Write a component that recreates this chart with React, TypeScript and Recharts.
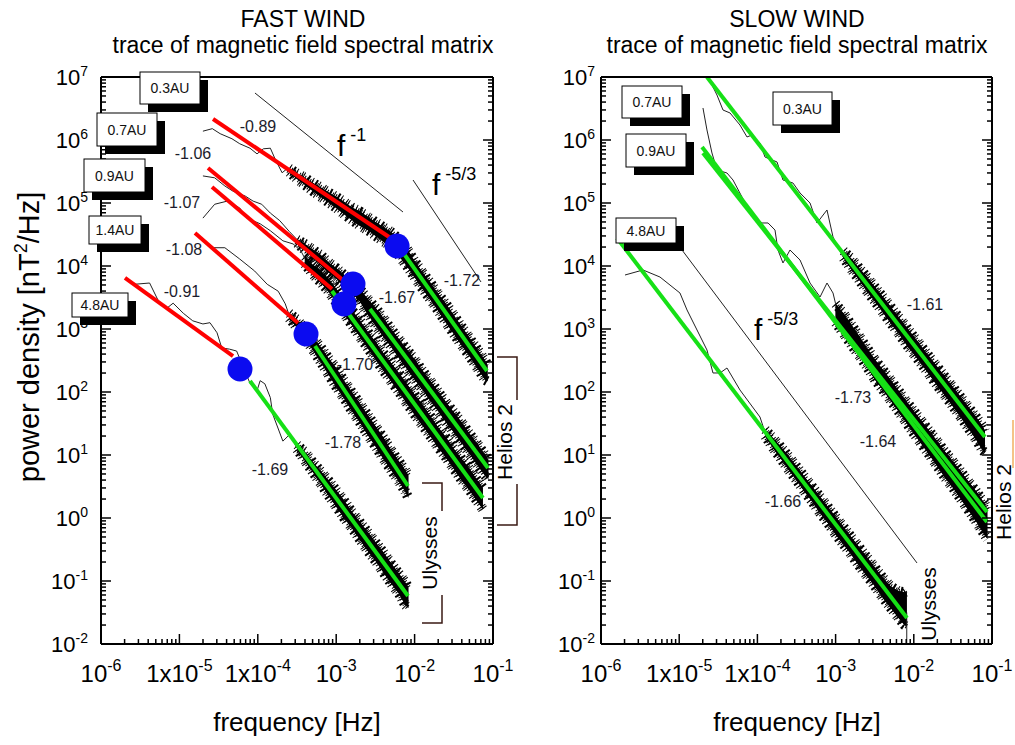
import React from 'react';
import { ComposedChart, Line, Area, Scatter, XAxis, YAxis } from 'recharts';

type Pt = [number, number];
type Band = [number, number, number];

const FONT = "'Liberation Sans', Arial, Helvetica, sans-serif";

// both axes are in decades: x = log10(f / Hz), y = log10(P / nT^2 Hz^-1)
const xDecades = [-6, -5, -4, -3, -2, -1];
const xTickBase = ['10', '1x10', '1x10', '10', '10', '10'];
const yDecades = [7, 6, 5, 4, 3, 2, 1, 0, -1, -2];
const minorSteps = [2, 3, 4, 5, 6, 7, 8, 9];

// ---------- FAST WIND ----------
// low frequency part of each spectrum (thin line)
const fast03Thin: Pt[] = [[-4.70, 6.14], [-4.58, 6.18], [-4.48, 6.10], [-4.33, 6.02], [-4.23, 5.94], [-4.10, 5.87], [-4.01, 5.78], [-3.93, 5.86], [-3.84, 5.87], [-3.78, 5.70], [-3.69, 5.48], [-3.63, 5.54], [-3.60, 5.52]];
const fast07Thin: Pt[] = [[-4.70, 5.43], [-4.55, 5.40], [-4.42, 5.27], [-4.32, 5.19], [-4.16, 5.11], [-4.06, 5.03], [-3.95, 4.98], [-3.84, 4.84], [-3.72, 4.72], [-3.60, 4.55], [-3.50, 4.42]];
const fast09Thin: Pt[] = [[-4.70, 4.76], [-4.55, 4.98], [-4.39, 5.03], [-4.23, 4.92], [-4.14, 4.76], [-3.97, 4.67], [-3.84, 4.56], [-3.68, 4.40], [-3.55, 4.35], [-3.45, 4.24], [-3.40, 4.12]];
const fast14Thin: Pt[] = [[-4.57, 4.29], [-4.42, 4.29], [-4.23, 4.11], [-4.04, 3.92], [-3.88, 3.71], [-3.74, 3.60], [-3.65, 3.40], [-3.60, 3.22]];
const fast48Thin: Pt[] = [[-5.57, 3.71], [-5.38, 3.73], [-5.25, 3.40], [-5.16, 3.33], [-5.08, 3.41], [-4.95, 3.25], [-4.83, 3.13], [-4.70, 3.08], [-4.61, 3.10], [-4.52, 2.94], [-4.46, 2.70], [-4.36, 2.68], [-4.27, 2.65], [-4.10, 2.14], [-4.01, 2.02], [-3.97, 2.18], [-3.91, 2.13], [-3.84, 1.91], [-3.81, 1.65], [-3.68, 1.22], [-3.59, 1.33], [-3.50, 1.11]];

// noisy high frequency part: [log f, lower, upper]
const fast03Band: Band[] = [[-3.60, 5.49, 5.55], [-3.50, 5.38, 5.47], [-3.40, 5.29, 5.40], [-3.30, 5.19, 5.32], [-3.20, 5.10, 5.25], [-3.10, 5.01, 5.17], [-3.00, 4.92, 5.10], [-2.90, 4.82, 5.02], [-2.80, 4.73, 4.93], [-2.70, 4.64, 4.87], [-2.60, 4.57, 4.78], [-2.50, 4.48, 4.70], [-2.40, 4.39, 4.62], [-2.30, 4.31, 4.54], [-2.20, 4.16, 4.43], [-2.10, 4.00, 4.28], [-2.00, 3.82, 4.08], [-1.90, 3.64, 3.90], [-1.80, 3.47, 3.74], [-1.70, 3.29, 3.56], [-1.60, 3.10, 3.40], [-1.50, 2.92, 3.22], [-1.40, 2.74, 3.04], [-1.30, 2.57, 2.86], [-1.20, 2.38, 2.68], [-1.10, 2.19, 2.50], [-1.07, 2.17, 2.43]];
const fast07Band: Band[] = [[-3.50, 4.36, 4.42], [-3.40, 4.25, 4.35], [-3.30, 4.13, 4.26], [-3.20, 4.01, 4.18], [-3.10, 3.90, 4.06], [-3.00, 3.80, 3.97], [-2.90, 3.68, 3.86], [-2.80, 3.57, 3.76], [-2.70, 3.44, 3.64], [-2.60, 3.24, 3.48], [-2.50, 3.06, 3.34], [-2.40, 2.88, 3.18], [-2.30, 2.72, 3.00], [-2.20, 2.54, 2.84], [-2.10, 2.37, 2.68], [-2.00, 2.20, 2.52], [-1.90, 2.04, 2.34], [-1.80, 1.86, 2.18], [-1.70, 1.70, 2.01], [-1.60, 1.52, 1.84], [-1.50, 1.36, 1.68], [-1.40, 1.19, 1.52], [-1.30, 1.02, 1.34], [-1.20, 0.84, 1.18], [-1.10, 0.67, 1.00], [-1.06, 0.62, 0.93]];
const fast09Band: Band[] = [[-3.40, 4.03, 4.15], [-3.30, 3.87, 4.02], [-3.20, 3.74, 3.93], [-3.10, 3.60, 3.80], [-3.00, 3.42, 3.64], [-2.90, 3.24, 3.46], [-2.80, 3.06, 3.30], [-2.70, 2.88, 3.14], [-2.60, 2.70, 2.96], [-2.50, 2.52, 2.80], [-2.40, 2.34, 2.62], [-2.30, 2.17, 2.46], [-2.20, 2.00, 2.30], [-2.10, 1.82, 2.13], [-2.00, 1.64, 1.96], [-1.90, 1.47, 1.80], [-1.80, 1.30, 1.62], [-1.70, 1.12, 1.44], [-1.60, 0.96, 1.28], [-1.50, 0.78, 1.10], [-1.40, 0.60, 0.94], [-1.30, 0.44, 0.78], [-1.20, 0.26, 0.60], [-1.13, 0.14, 0.48]];
const fast14Band: Band[] = [[-3.60, 3.17, 3.25], [-3.50, 3.02, 3.15], [-3.40, 2.85, 3.01], [-3.30, 2.67, 2.87], [-3.20, 2.48, 2.72], [-3.10, 2.28, 2.54], [-3.00, 2.08, 2.38], [-2.90, 1.90, 2.18], [-2.80, 1.70, 2.00], [-2.70, 1.52, 1.82], [-2.60, 1.32, 1.64], [-2.50, 1.14, 1.46], [-2.40, 0.94, 1.28], [-2.30, 0.76, 1.08], [-2.20, 0.58, 0.90], [-2.12, 0.42, 0.76], [-2.08, 0.32, 0.68]];
const fast48Band: Band[] = [[-3.50, 1.09, 1.16], [-3.40, 0.91, 1.05], [-3.30, 0.73, 0.89], [-3.20, 0.55, 0.75], [-3.10, 0.36, 0.60], [-3.00, 0.18, 0.44], [-2.90, 0.00, 0.28], [-2.80, -0.16, 0.10], [-2.70, -0.34, -0.06], [-2.60, -0.52, -0.22], [-2.50, -0.68, -0.38], [-2.40, -0.86, -0.54], [-2.30, -1.04, -0.72], [-2.20, -1.20, -0.88], [-2.12, -1.38, -1.02], [-2.08, -1.43, -1.10]];

// power-law fits below (red) and above (green) the break
const fastRed: Pt[][] = [
  [[-4.571, 6.333], [-2.288, 4.429]],
  [[-4.635, 5.556], [-2.824, 3.683]],
  [[-4.584, 5.254], [-3.054, 3.635]],
  [[-4.801, 4.524], [-3.487, 3.095]],
  [[-5.694, 3.810], [-4.316, 2.571]],
];
const fastGreen: Pt[][] = [
  [[-2.161, 4.238], [-1.077, 2.333]],
  [[-2.569, 3.317], [-1.064, 0.794]],
  [[-3.054, 3.603], [-1.128, 0.317]],
  [[-3.270, 2.730], [-2.084, 0.508]],
  [[-4.099, 2.175], [-2.084, -1.238]],
];
const fastBreaks: Pt[] = [[-2.224, 4.317], [-2.786, 3.714], [-2.901, 3.397], [-3.385, 2.921], [-4.227, 2.365]];
const fastGuides: Pt[][] = [
  [[-4.036, 6.746], [-2.148, 4.857]], // f^-1
  [[-2.020, 5.365], [-1.153, 3.746]], // f^-5/3
];

// ---------- SLOW WIND ----------
const slow03Thin: Pt[] = [[-4.632, 7.0], [-4.517, 6.714], [-4.440, 6.476], [-4.350, 6.429], [-4.223, 6.238], [-4.133, 6.048], [-4.069, 6.079], [-3.967, 5.952], [-3.903, 5.730], [-3.749, 5.651], [-3.673, 5.365], [-3.545, 5.317], [-3.455, 5.159], [-3.327, 5.000], [-3.238, 4.683], [-3.110, 4.889], [-3.033, 4.460], [-2.905, 4.143]];
const slow07Thin: Pt[] = [[-4.696, 6.508], [-4.645, 6.159], [-4.581, 5.794], [-4.517, 5.524], [-4.389, 5.476], [-4.312, 5.365], [-4.197, 5.095], [-4.069, 4.778], [-3.941, 4.683], [-3.864, 4.683], [-3.775, 4.571], [-3.737, 4.254], [-3.673, 4.048], [-3.583, 4.254], [-3.455, 4.095], [-3.327, 3.730], [-3.199, 3.508], [-3.110, 3.730], [-3.033, 3.571], [-3.0, 3.40]];
const slow48Thin: Pt[] = [[-5.693, 3.857], [-5.463, 3.937], [-5.246, 3.825], [-4.990, 3.571], [-4.900, 3.302], [-4.772, 2.984], [-4.645, 2.667], [-4.568, 2.302], [-4.478, 2.302], [-4.389, 2.381], [-4.223, 2.032], [-3.967, 1.603], [-3.90, 1.35]];
const slow48Drop: Pt[] = [[-2.09, -1.5], [-2.09, -2.0]];

const slow03Band: Band[] = [[-2.90, 4.13, 4.24], [-2.80, 3.95, 4.12], [-2.70, 3.78, 3.97], [-2.60, 3.60, 3.83], [-2.50, 3.44, 3.67], [-2.40, 3.27, 3.52], [-2.30, 3.10, 3.36], [-2.20, 2.94, 3.20], [-2.10, 2.76, 3.04], [-2.00, 2.60, 2.88], [-1.90, 2.44, 2.72], [-1.80, 2.27, 2.56], [-1.70, 2.10, 2.40], [-1.60, 1.94, 2.24], [-1.50, 1.77, 2.08], [-1.40, 1.60, 1.92], [-1.30, 1.42, 1.76], [-1.20, 1.24, 1.60], [-1.12, 1.07, 1.46], [-1.09, 1.04, 1.38]];
const slow0709Band: Band[] = [[-3.00, 3.10, 3.40], [-2.90, 2.93, 3.25], [-2.80, 2.75, 3.07], [-2.70, 2.58, 2.89], [-2.60, 2.40, 2.70], [-2.50, 2.20, 2.52], [-2.40, 2.04, 2.36], [-2.30, 1.87, 2.20], [-2.20, 1.70, 2.03], [-2.10, 1.52, 1.86], [-2.00, 1.34, 1.70], [-1.90, 1.17, 1.54], [-1.80, 1.00, 1.38], [-1.70, 0.82, 1.22], [-1.60, 0.64, 1.05], [-1.50, 0.48, 0.90], [-1.40, 0.30, 0.74], [-1.30, 0.12, 0.58], [-1.20, -0.06, 0.42], [-1.10, -0.26, 0.24], [-1.06, -0.33, 0.14]];
const slow48Band: Band[] = [[-3.90, 1.30, 1.40], [-3.80, 1.11, 1.27], [-3.70, 0.94, 1.13], [-3.60, 0.76, 0.98], [-3.50, 0.60, 0.82], [-3.40, 0.42, 0.66], [-3.30, 0.26, 0.50], [-3.20, 0.08, 0.34], [-3.10, -0.08, 0.18], [-3.00, -0.26, 0.02], [-2.90, -0.42, -0.14], [-2.80, -0.58, -0.30], [-2.70, -0.76, -0.46], [-2.60, -0.92, -0.62], [-2.50, -1.08, -0.78], [-2.40, -1.26, -0.94], [-2.30, -1.42, -1.08], [-2.20, -1.58, -1.16], [-2.12, -1.70, -1.18], [-2.09, -1.72, -1.16]];

const slowGreen: Pt[][] = [
  [[-4.645, 7.0], [-1.090, 1.286]],
  [[-4.708, 5.889], [-1.064, -0.063]],
  [[-4.696, 5.794], [-1.064, 0.095]],
  [[-5.795, 4.444], [-2.087, -1.587]],
];
const slowGuides: Pt[][] = [[[-4.964, 4.254], [-1.959, -0.714]]];

// ---------- annotations (page pixels) ----------
const fastBoxes = [
  { x: 140, y: 72, w: 60, h: 32, t: '0.3AU' },
  { x: 97, y: 113, w: 60, h: 33, t: '0.7AU' },
  { x: 84, y: 159, w: 61, h: 33, t: '0.9AU' },
  { x: 89, y: 216, w: 52, h: 28, t: '1.4AU' },
  { x: 72, y: 293, w: 56, h: 24, t: '4.8AU' },
];
const slowBoxes = [
  { x: 622, y: 86, w: 60, h: 32, t: '0.7AU' },
  { x: 773, y: 92, w: 59, h: 33, t: '0.3AU' },
  { x: 626, y: 134, w: 60, h: 33, t: '0.9AU' },
  { x: 616, y: 218, w: 60, h: 25, t: '4.8AU' },
];
const slopeLabels = [
  { t: '-0.89', x: 258, y: 132 }, { t: '-1.06', x: 193, y: 159 }, { t: '-1.07', x: 182, y: 208 },
  { t: '-1.08', x: 184, y: 255 }, { t: '-0.91', x: 182, y: 297 }, { t: '-1.67', x: 397, y: 303 },
  { t: '-1.72', x: 462, y: 286 }, { t: '-1.70', x: 355, y: 370 }, { t: '-1.78', x: 343, y: 448 },
  { t: '-1.69', x: 270, y: 475 },
  { t: '-1.61', x: 925, y: 310 }, { t: '-1.73', x: 853, y: 403 }, { t: '-1.64', x: 878, y: 447 },
  { t: '-1.66', x: 783, y: 507 },
];

const toRows = (pts: Pt[]) => pts.map(([e, p]) => ({ e, p }));
const toBand = (pts: Band[]) => pts.map(([e, lo, hi]) => ({ e, r: [lo, hi] }));

const xTicks = xDecades.flatMap((n) => (n === -1 ? [n] : [n, ...minorSteps.map((k) => n + Math.log10(k))]));
const yTicks = yDecades.flatMap((n) => (n === 7 ? [n] : [n, ...minorSteps.map((k) => n + Math.log10(k))]));
const isMajor = (v: number) => Math.abs(v - Math.round(v)) < 1e-6;

const TICK = { stroke: '#000', strokeWidth: 1.5 };

function BottomTick(props: any) {
  const { x, y, payload } = props;
  const m = isMajor(payload.value);
  const n = Math.round(payload.value);
  return (
    <g>
      <line x1={x} x2={x} y1={y} y2={y - (m ? 10 : 5)} {...TICK} />
      {m && (
        <text x={x} y={y + 38} textAnchor="middle" fontFamily={FONT} fontSize={24} fill="#000">
          {xTickBase[xDecades.indexOf(n)]}
          <tspan dy={-11} fontSize={16}>{n}</tspan>
        </text>
      )}
    </g>
  );
}

function TopTick(props: any) {
  const { x, y, payload } = props;
  const m = isMajor(payload.value);
  return <line x1={x} x2={x} y1={y} y2={y + (m ? 10 : 5)} {...TICK} />;
}

function LeftTick(props: any) {
  const { x, y, payload, gap } = props;
  const m = isMajor(payload.value);
  const n = Math.round(payload.value);
  return (
    <g>
      <line x1={x} x2={x + (m ? 10 : 5)} y1={y} y2={y} {...TICK} />
      {m && (
        <text x={x - gap} y={y + 8} textAnchor="end" fontFamily={FONT} fontSize={22} fill="#000">
          10
          <tspan dy={-9} fontSize={14}>{n}</tspan>
        </text>
      )}
    </g>
  );
}

function RightTick(props: any) {
  const { x, y, payload } = props;
  const m = isMajor(payload.value);
  return <line x1={x} x2={x - (m ? 10 : 5)} y1={y} y2={y} {...TICK} />;
}

interface PanelProps {
  width: number;
  margin: { top: number; bottom: number; left: number; right: number };
  labelGap: number;
  thin: Pt[][];
  bands: Band[][];
  guides: Pt[][];
  red: Pt[][];
  green: Pt[][];
  breaks: Pt[];
}

function Panel({ width, margin, labelGap, thin, bands, guides, red, green, breaks }: PanelProps) {
  const axisLine = { stroke: '#000', strokeWidth: 2 };
  const common = { xAxisId: 'b', yAxisId: 'l', isAnimationActive: false, dot: false, activeDot: false, type: 'linear' as const };
  return (
    <ComposedChart width={width} height={745} margin={margin}>
      <XAxis xAxisId="b" type="number" dataKey="e" domain={[-6, -1]} allowDataOverflow ticks={xTicks} interval={0}
        height={1} tickSize={0} tickMargin={0} tickLine={false} axisLine={axisLine} tick={BottomTick} />
      <XAxis xAxisId="t" orientation="top" type="number" domain={[-6, -1]} allowDataOverflow ticks={xTicks} interval={0}
        height={1} tickSize={0} tickMargin={0} tickLine={false} axisLine={axisLine} tick={TopTick} />
      <YAxis yAxisId="l" type="number" dataKey="p" domain={[-2, 7]} allowDataOverflow ticks={yTicks} interval={0}
        width={1} tickSize={0} tickMargin={0} tickLine={false} axisLine={axisLine}
        tick={(p: any) => <LeftTick {...p} gap={labelGap} />} />
      <YAxis yAxisId="r" orientation="right" type="number" domain={[-2, 7]} allowDataOverflow ticks={yTicks} interval={0}
        width={1} tickSize={0} tickMargin={0} tickLine={false} axisLine={axisLine} tick={RightTick} />

      {/* noisy bands: solid core plus two dashed fringes that give the ragged edges */}
      {bands.map((b, i) => (
        <Area key={'bandA' + i} {...common} data={toBand(b)} dataKey="r" stroke="#000" strokeWidth={10}
          strokeDasharray="1 3 2 2 1 5 1 1 1 4 2 3" fill="#000" fillOpacity={1} />
      ))}
      {bands.map((b, i) => (
        <Area key={'bandB' + i} {...common} data={toBand(b)} dataKey="r" stroke="#000" strokeWidth={5}
          strokeDasharray="1 1.5 1 2.5" fill="#000" fillOpacity={1} />
      ))}
      {thin.map((s, i) => (
        <Line key={'thin' + i} {...common} data={toRows(s)} dataKey="p" stroke="#222" strokeWidth={1} />
      ))}
      {guides.map((s, i) => (
        <Line key={'guide' + i} {...common} data={toRows(s)} dataKey="p" stroke="#222" strokeWidth={1} />
      ))}
      {red.map((s, i) => (
        <Line key={'red' + i} {...common} data={toRows(s)} dataKey="p" stroke="#ff0000" strokeWidth={4} />
      ))}
      {green.map((s, i) => (
        <Line key={'green' + i} {...common} data={toRows(s)} dataKey="p" stroke="#16e016" strokeWidth={4} />
      ))}
      {breaks.length > 0 && (
        <Scatter xAxisId="b" yAxisId="l" data={toRows(breaks)} dataKey="p" isAnimationActive={false}
          shape={(p: any) => <circle cx={p.cx} cy={p.cy} r={12.5} fill="#0b0bf0" />} />
      )}
    </ComposedChart>
  );
}

function Box({ x, y, w, h, t }: { x: number; y: number; w: number; h: number; t: string }) {
  return (
    <g>
      <rect x={x + 8} y={y + 8} width={w} height={h} fill="#000" />
      <rect x={x} y={y} width={w} height={h} fill="#fff" stroke="#000" strokeWidth={1} />
      <text x={x + w / 2} y={y + h / 2 + 5} textAnchor="middle" fontSize={14} fill="#111">{t}</text>
    </g>
  );
}

function Power({ x, y, sup }: { x: number; y: number; sup: string }) {
  return (
    <text x={x} y={y} fontSize={30} fill="#000">
      f
      <tspan dx={5} dy={-15} fontSize={18}>{sup}</tspan>
    </text>
  );
}

export default function App() {
  return (
    <div style={{ position: 'absolute', left: 0, top: 0, width: 1015, height: 745, background: '#fff', overflow: 'hidden' }}>
      <div style={{ position: 'absolute', left: 0, top: 0 }}>
        <Panel
          width={545}
          margin={{ top: 76, bottom: 100, left: 100, right: 51 }}
          labelGap={13}
          thin={[fast03Thin, fast07Thin, fast09Thin, fast14Thin, fast48Thin]}
          bands={[fast03Band, fast07Band, fast09Band, fast14Band, fast48Band]}
          guides={fastGuides}
          red={fastRed}
          green={fastGreen}
          breaks={fastBreaks}
        />
      </div>
      <div style={{ position: 'absolute', left: 510, top: 0 }}>
        <Panel
          width={505}
          margin={{ top: 76, bottom: 100, left: 90, right: 22 }}
          labelGap={6}
          thin={[slow03Thin, slow07Thin, slow48Thin, slow48Drop]}
          bands={[slow03Band, slow0709Band, slow48Band]}
          guides={slowGuides}
          red={[]}
          green={slowGreen}
          breaks={[]}
        />
      </div>
      <svg width={1015} height={745} style={{ position: 'absolute', left: 0, top: 0 }} fontFamily={FONT}>
        {/* titles */}
        <text x={303} y={27} textAnchor="middle" fontSize={23}>FAST WIND</text>
        <text x={303} y={53} textAnchor="middle" fontSize={23}>trace of magnetic field spectral matrix</text>
        <text x={797} y={27} textAnchor="middle" fontSize={23}>SLOW WIND</text>
        <text x={797} y={53} textAnchor="middle" fontSize={23}>trace of magnetic field spectral matrix</text>
        <text x={297} y={731} textAnchor="middle" fontSize={26}>frequency [Hz]</text>
        <text x={797} y={731} textAnchor="middle" fontSize={26}>frequency [Hz]</text>
        <text transform="translate(39,337) rotate(-90)" textAnchor="middle" fontSize={29}>
          power density [nT<tspan dy={-12} fontSize={18}>2</tspan><tspan dy={12}>/Hz]</tspan>
        </text>

        {/* power-law guides */}
        <Power x={337} y={156} sup="-1" />
        <Power x={432} y={195} sup="-5/3" />
        <Power x={754} y={340} sup="-5/3" />

        {slopeLabels.map((l) => (
          <text key={l.t + l.x} x={l.x} y={l.y} textAnchor="middle" fontSize={16} fill="#1c1c2c">{l.t}</text>
        ))}

        {fastBoxes.map((b) => <Box key={'f' + b.t} {...b} />)}
        {slowBoxes.map((b) => <Box key={'s' + b.t} {...b} />)}

        {/* spacecraft brackets */}
        <g stroke="#3a1a14" strokeWidth={1.5} fill="none">
          <polyline points="497,357 517,357 517,400" />
          <polyline points="517,484 517,525 497,525" />
          <polyline points="422,483 442,483 442,511" />
          <polyline points="442,595 442,623 422,623" />
        </g>
        <line x1={1013} y1={420} x2={1013} y2={468} stroke="#f0b060" strokeWidth={1.5} />
        <text transform="translate(512,442) rotate(-90)" textAnchor="middle" fontSize={21}>Helios 2</text>
        <text transform="translate(437,553) rotate(-90)" textAnchor="middle" fontSize={21}>Ulysses</text>
        <text transform="translate(936,604) rotate(-90)" textAnchor="middle" fontSize={21}>Ulysses</text>
        <text transform="translate(1011,502) rotate(-90)" textAnchor="middle" fontSize={21}>Helios 2</text>
      </svg>
    </div>
  );
}
